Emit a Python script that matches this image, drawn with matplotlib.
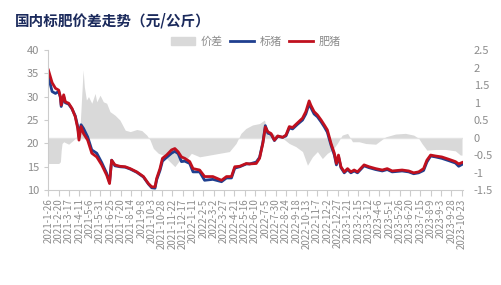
import numpy as np
import pandas as pd
import matplotlib
matplotlib.use('Agg')
import matplotlib.pyplot as plt
from matplotlib.patches import Patch
from matplotlib.lines import Line2D

plt.rcParams['font.family'] = ['Noto Sans CJK SC', 'DejaVu Sans']

start = pd.Timestamp('2021-01-26')

# x tick labels (every 25 days)
tick_labels = ['2021-1-26', '2021-2-20', '2021-3-17', '2021-4-11', '2021-5-6', '2021-5-31',
               '2021-6-25', '2021-7-20', '2021-8-14', '2021-9-8', '2021-10-3', '2021-10-28',
               '2021-11-22', '2021-12-17', '2022-1-11', '2022-2-5', '2022-3-2', '2022-3-27',
               '2022-4-21', '2022-5-16', '2022-6-10', '2022-7-5', '2022-7-30', '2022-8-24',
               '2022-9-18', '2022-10-13', '2022-11-7', '2022-12-2', '2022-12-27', '2023-1-21',
               '2023-2-15', '2023-3-12', '2023-4-6', '2023-5-1', '2023-5-26', '2023-6-20',
               '2023-7-15', '2023-8-9', '2023-9-3', '2023-9-28', '2023-10-23']

# days since 2021-1-26, prices in yuan/kg
price_days = [0, 9, 17, 25, 29, 31, 37, 41, 49, 57, 65, 71, 74, 79, 85, 95, 105, 117, 129, 141,
              148, 153, 161, 173, 186, 198, 214, 230, 242, 250, 258, 262, 270, 276, 286, 298,
              306, 314, 322, 330, 342, 350, 366, 378, 398, 419, 431, 443, 451, 463, 479, 487,
              503, 511, 519, 525, 531, 539, 547, 555, 567, 575, 583, 591, 603, 615, 623, 631,
              635, 643, 651, 660, 668, 675, 684, 692, 697, 702, 708, 716, 724, 732, 740, 748,
              764, 776, 792, 808, 820, 832, 856, 872, 884, 896, 908, 916, 925, 937, 952, 969,
              985, 993, 1001]
fat_pig = [35.7, 33.0, 31.8, 31.4, 30.0, 28.2, 30.4, 28.9, 28.6, 27.5, 25.7, 23.2, 20.7, 23.6,
           22.1, 20.7, 17.9, 17.1, 15.4, 13.2, 11.4, 16.4, 15.4, 15.1, 15.0, 14.6, 13.9, 12.9,
           11.4, 10.7, 10.7, 12.5, 14.6, 16.8, 17.5, 18.6, 18.9, 18.2, 17.1, 16.8, 16.1, 14.6,
           14.3, 12.9, 12.9, 12.1, 12.9, 12.9, 15.0, 15.1, 15.7, 15.6, 15.7, 16.8, 20.0, 23.5,
           22.5, 22.1, 20.7, 21.6, 21.3, 21.8, 23.6, 23.4, 24.4, 25.4, 26.8, 29.1, 28.2, 26.8,
           26.1, 25.0, 23.9, 22.9, 20.0, 17.9, 15.7, 17.5, 15.0, 13.9, 14.6, 13.9, 14.3, 13.9,
           15.4, 15.0, 14.6, 14.3, 14.6, 14.1, 14.3, 14.1, 13.7, 13.9, 14.6, 16.4, 17.5, 17.3,
           17.1, 16.6, 16.1, 15.6, 15.9]
std_pig = [34.3, 31.1, 30.7, 31.1, 29.8, 27.9, 30.0, 28.7, 28.4, 27.4, 25.9, 23.6, 21.5, 24.0,
           23.2, 21.4, 18.6, 17.9, 15.9, 13.6, 11.7, 16.4, 15.2, 15.0, 14.9, 14.5, 13.8, 12.8,
           11.3, 10.5, 10.4, 12.2, 14.2, 16.2, 17.0, 17.9, 18.3, 17.8, 16.1, 16.2, 15.7, 13.9,
           13.9, 12.1, 12.3, 11.8, 12.6, 12.6, 14.7, 15.0, 15.6, 15.6, 16.0, 17.0, 20.2, 23.8,
           22.2, 21.9, 20.6, 21.5, 21.3, 21.6, 23.3, 23.1, 24.1, 25.0, 26.3, 28.5, 27.7, 26.3,
           25.7, 24.6, 23.5, 22.4, 19.6, 17.5, 15.4, 17.2, 14.8, 13.7, 14.4, 13.7, 14.1, 13.7,
           15.2, 14.8, 14.4, 14.1, 14.4, 13.9, 14.1, 13.9, 13.5, 13.7, 14.2, 16.0, 17.3, 17.1,
           16.8, 16.3, 15.8, 15.1, 15.5]

# price spread (right axis)
spread_days = [0, 25, 29, 31, 33, 37, 49, 61, 71, 77, 84, 87, 92, 97, 105, 113, 117, 125, 133,
               141, 149, 161, 173, 186, 198, 214, 226, 238, 246, 254, 266, 278, 294, 306, 318,
               330, 346, 366, 390, 414, 438, 454, 466, 478, 494, 511, 523, 531, 543, 555, 567,
               583, 599, 615, 627, 639, 651, 663, 675, 687, 699, 711, 724, 736, 752, 768, 792,
               816, 840, 864, 884, 896, 904, 916, 937, 961, 985, 997, 1001]
spread = [-0.74, -0.74, -0.69, -0.36, -0.17, -0.12, -0.19, -0.07, 0.07, 0.4, 1.93, 1.45, 1.07,
          1.17, 0.98, 1.26, 1.02, 1.21, 1.02, 0.98, 0.74, 0.64, 0.5, 0.21, 0.17, 0.23, 0.2, 0.07,
          -0.07, -0.31, -0.45, -0.5, -0.69, -0.83, -0.64, -0.69, -0.45, -0.55, -0.5, -0.45, -0.4,
          -0.17, 0.12, 0.26, 0.36, 0.4, 0.5, 0.07, 0.12, 0.02, -0.02, -0.17, -0.26, -0.4, -0.79,
          -0.55, -0.4, -0.6, -0.45, -0.36, -0.17, 0.07, 0.12, -0.12, -0.12, -0.17, -0.19, 0.02,
          0.1, 0.12, 0.07, -0.02, -0.17, -0.36, -0.34, -0.34, -0.38, -0.5, -0.5]

grey_txt = '#8c8c8c'
fig = plt.figure(figsize=(5.02, 2.85), dpi=100)
ax = fig.add_axes([0.0956, 0.333, 0.8264, 0.4916])
ax2 = ax.twinx()

ax2.fill_between(spread_days, 0, spread, color='#d9d9d9', linewidth=0)
ax2.axhline(0, color='#e3e3e3', linewidth=1)
ax2.set_ylim(-1.5, 2.5)
ax2.set_yticks([-1.5, -1, -0.5, 0, 0.5, 1, 1.5, 2, 2.5])
ax2.set_yticklabels(['-1.5', '-1', '-0.5', '0', '0.5', '1', '1.5', '2', '2.5'])

ax.plot(price_days, std_pig, color='#1f3f8f', linewidth=2)
ax.plot(price_days, fat_pig, color='#c0101e', linewidth=2)
ax.set_ylim(10, 40)
ax.set_yticks([10, 15, 20, 25, 30, 35, 40])
ax.set_xlim(-1, 1003)
ax.set_xticks(np.arange(0, 1001, 25))
ax.set_xticklabels(tick_labels, rotation=90)
ax.set_zorder(ax2.get_zorder() + 1)
ax.patch.set_visible(False)

for a in (ax, ax2):
    for s in ['top', 'right']:
        a.spines[s].set_visible(False)
    a.spines['left'].set_visible(a is ax)
    a.spines['bottom'].set_visible(a is ax)
ax.spines['left'].set_color('#cccccc')
ax.spines['bottom'].set_color('#cccccc')
ax.tick_params(axis='y', colors=grey_txt, labelsize=8, length=3, color='#cccccc')
ax.tick_params(axis='x', colors=grey_txt, labelsize=7, length=4, color='#cccccc', pad=2)
ax2.tick_params(axis='y', colors=grey_txt, labelsize=8, length=0, pad=8)

fig.text(0.03, 0.955, '国内标肥价差走势（元/公斤）', fontsize=10.5, fontweight='bold',
         color='#1b2a5c', va='top')

handles = [Patch(color='#d9d9d9'), Line2D([], [], color='#1f3f8f', lw=2),
           Line2D([], [], color='#c0101e', lw=2)]
fig.legend(handles, ['价差', '标猪', '肥猪'], loc='center', bbox_to_anchor=(0.51, 0.855),
           ncol=3, frameon=False, fontsize=8, labelcolor=grey_txt, handlelength=2.2,
           handletextpad=0.5, columnspacing=0.6)

plt.savefig('out.png', dpi=100)
